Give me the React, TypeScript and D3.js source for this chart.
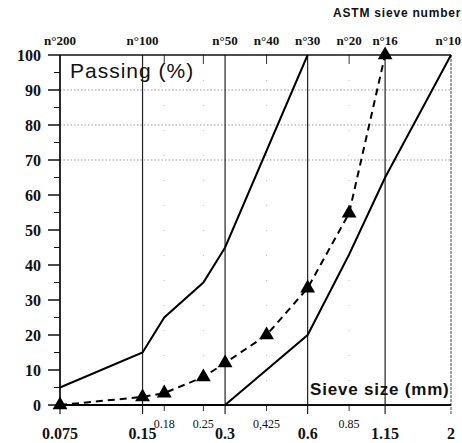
import React from "react";
import * as d3 from "d3";

// Sieve sizes (mm)
const majorSizes = [0.075, 0.15, 0.3, 0.6, 1.15, 2];
const majorLabels = ["0.075", "0.15", "0.3", "0.6", "1.15", "2"];
const minorSizes = [0.18, 0.25, 0.425, 0.85];
const minorLabels = ["0.18", "0.25", "0,425", "0.85"];
const sieveNumSizes = [0.075, 0.15, 0.3, 0.425, 0.6, 0.85, 1.15, 2];
const sieveNumLabels = ["n°200", "n°100", "n°50", "n°40", "n°30", "n°20", "n°16", "n°10"];

// Upper limit curve
const upperSizes = [0.075, 0.15, 0.18, 0.25, 0.3, 0.6];
const upperValues = [5, 15, 25, 35, 45, 100];
// Lower limit curve
const lowerSizes = [0.075, 0.15, 0.3, 0.6, 0.85, 1.15, 2];
const lowerValues = [0, 0, 0, 20, 43, 65, 100];
// Mix grading (dashed with triangles)
const mixSizes = [0.075, 0.15, 0.18, 0.25, 0.3, 0.425, 0.6, 0.85, 1.15];
const mixValues = [0, 2.3, 3.4, 8, 12, 20, 33.4, 54.8, 100];

const yTicks = [0, 10, 20, 30, 40, 50, 60, 70, 80, 90, 100];
const yMinor = [5, 15, 25, 35, 45, 55, 65, 75, 85, 95];
const gridY = [70, 80, 90];

const serif = '"Liberation Serif", "Times New Roman", serif';
const sans = '"Liberation Sans", Arial, sans-serif';

export default function App() {
  const x = d3.scaleLog().domain([0.075, 2]).range([60, 451]);
  const y = d3.scaleLinear().domain([0, 100]).range([405, 55]);
  const line = d3
    .line<[number, number]>()
    .x((d) => x(d[0]))
    .y((d) => y(d[1]));
  const upper = upperSizes.map((s, i) => [s, upperValues[i]] as [number, number]);
  const lower = lowerSizes.map((s, i) => [s, lowerValues[i]] as [number, number]);
  const mix = mixSizes.map((s, i) => [s, mixValues[i]] as [number, number]);
  const tri = d3.symbol().type(d3.symbolTriangle).size(95)();

  return (
    <svg
      width={462}
      height={443}
      style={{ position: "absolute", left: 0, top: 0, background: "#fff" }}
    >
      {/* horizontal dotted grid */}
      {gridY.map((v) => (
        <line key={"g" + v} x1={60} x2={451} y1={y(v)} y2={y(v)} stroke="#999" strokeWidth={1} strokeDasharray="1.5,2" />
      ))}
      {/* faint minor vertical dotted lines */}
      {minorSizes.map((s) => (
        <line key={"mv" + s} x1={x(s)} x2={x(s)} y1={55} y2={405} stroke="#bbb" strokeWidth={1} strokeDasharray="1,24" />
      ))}
      {/* major vertical lines */}
      {majorSizes.slice(0, 5).map((s) => (
        <line key={"v" + s} x1={x(s)} x2={x(s)} y1={55} y2={414} stroke="#222" strokeWidth={1.2} />
      ))}
      <line x1={x(2)} x2={x(2)} y1={55} y2={414} stroke="#444" strokeWidth={1} strokeDasharray="3,1" />
      {/* minor ticks top and bottom */}
      {minorSizes.map((s) => (
        <g key={"mt" + s}>
          <line x1={x(s)} x2={x(s)} y1={55} y2={64} stroke="#333" strokeWidth={1} />
          <line x1={x(s)} x2={x(s)} y1={405} y2={411} stroke="#333" strokeWidth={1} />
        </g>
      ))}
      {/* axes */}
      <line x1={60} x2={451} y1={55} y2={55} stroke="#111" strokeWidth={1.5} />
      <line x1={60} x2={451} y1={405} y2={405} stroke="#111" strokeWidth={2} />
      <line x1={60} x2={60} y1={55} y2={405} stroke="#111" strokeWidth={1.5} />
      {yTicks.map((v) => (
        <g key={"yt" + v}>
          <line x1={48} x2={60} y1={y(v)} y2={y(v)} stroke="#111" strokeWidth={1.5} />
          <text x={41} y={y(v)} dy="0.35em" textAnchor="end" fontFamily={serif} fontWeight="bold" fontSize={16} fill="#111">
            {v}
          </text>
        </g>
      ))}
      {yMinor.map((v) => (
        <line key={"ym" + v} x1={54} x2={60} y1={y(v)} y2={y(v)} stroke="#111" strokeWidth={1} />
      ))}
      {/* curves */}
      <path d={line(upper) || ""} fill="none" stroke="#000" strokeWidth={2} />
      <path d={line(lower) || ""} fill="none" stroke="#000" strokeWidth={2} />
      <path d={line(mix) || ""} fill="none" stroke="#000" strokeWidth={2} strokeDasharray="7,5" />
      {mix.map((d, i) => (
        <path key={"t" + i} d={tri || ""} transform={`translate(${x(d[0])},${y(d[1])})`} fill="#000" />
      ))}
      {/* bottom labels */}
      {majorSizes.map((s, i) => (
        <text key={"bl" + s} x={x(s)} y={439} textAnchor="middle" fontFamily={serif} fontWeight="bold" fontSize={16} fill="#111">
          {majorLabels[i]}
        </text>
      ))}
      {minorSizes.map((s, i) => (
        <text key={"ml" + s} x={x(s)} y={428} textAnchor="middle" fontFamily={serif} fontSize={12} fill="#111">
          {minorLabels[i]}
        </text>
      ))}
      {/* top sieve number labels */}
      {sieveNumSizes.map((s, i) => {
        const last = i === sieveNumSizes.length - 1;
        return (
          <text
            key={"sn" + s}
            x={last ? 461 : x(s)}
            y={45}
            textAnchor={last ? "end" : "middle"}
            fontFamily={serif}
            fontWeight="bold"
            fontSize={13}
            fill="#111"
          >
            {sieveNumLabels[i]}
          </text>
        );
      })}
      <text x={333} y={17} fontFamily={sans} fontWeight="bold" fontSize={12} letterSpacing={0.8} fill="#111">
        ASTM sieve number
      </text>
      <text x={70} y={78} fontFamily={sans} fontSize={21} letterSpacing={1} fill="#111">
        Passing (%)
      </text>
      <text x={310} y={395} fontFamily={sans} fontWeight="bold" fontSize={17} letterSpacing={0.8} fill="#111">
        Sieve size (mm)
      </text>
    </svg>
  );
}
